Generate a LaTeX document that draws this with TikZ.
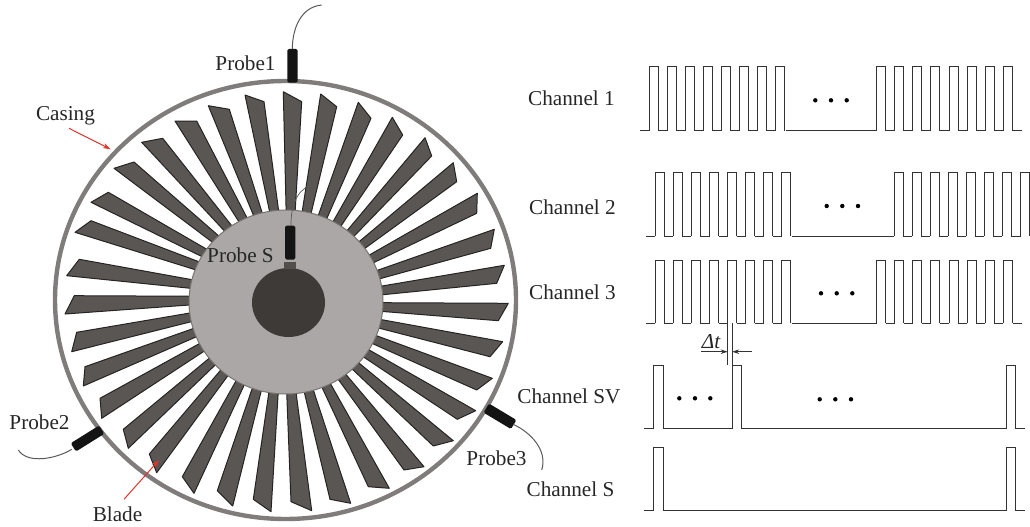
\documentclass[tikz,border=0pt]{standalone}
\usepackage{fontspec}
\setmainfont{Liberation Serif}
\usetikzlibrary{arrows.meta}
\definecolor{bladefill}{HTML}{5A5654}
\definecolor{bladeedge}{HTML}{262322}
\definecolor{casingcol}{HTML}{807C7C}
\definecolor{hubfill}{HTML}{ABA7A6}
\definecolor{hubedge}{HTML}{77736F}
\definecolor{shaftfill}{HTML}{3E3A38}
\definecolor{probecol}{HTML}{141414}
\definecolor{redarrow}{HTML}{E0352B}
\definecolor{sig}{HTML}{333333}
\tikzset{
  lbl/.style={inner sep=0pt,font=\fontsize{21.2}{24}\selectfont,text=black!85},
  wave/.style={draw=sig,line width=1pt,line join=miter},
  wirecol/.style={draw=black!65,line width=1pt},
  redline/.style={draw=redarrow,line width=1pt,-{Stealth[length=8pt,width=5pt]}},
  bladepoly/.style={fill=bladefill,draw=bladeedge,line width=1pt,line join=round},
  probebody/.style={draw=none,fill=probecol,rounded corners=1.5pt},
}
\begin{document}
\begin{tikzpicture}[x=1pt,y=-1pt]
\useasboundingbox (0,0) rectangle (1030,527);
\clip (0,0) rectangle (1030,527);
% blades: outer tip points
\foreach \ax/\ay/\bx/\by in {
283.3/91.7/301.7/101.7, 320.7/94/336.7/106.7, 358.3/102.3/371/118.3, 392.3/117.3/402.7/135,
425/137.7/431.7/156, 453.3/162.7/456.7/181.7, 477.3/193.3/476.7/213.3, 494.3/229.3/490.7/248.3,
504.3/265.3/496.7/283.3, 508.3/303.3/498.3/320.7, 502.7/341.7/490/356.7, 492.3/378.3/476.7/390,
475.7/410.7/457.3/419.3, 453.3/440.7/433.3/446, 424/466.7/404/470, 389.3/488.3/368.3/486.7,
350.7/503.3/330/499.3, 311.7/510.7/291/501.7, 271/511.7/253.3/499.3, 232.7/506/217.3/490.7,
194/493.3/182.3/476.7, 156.7/472.7/149.3/454, 128.3/448.3/123.3/429.3, 101.7/418.3/100/398.3,
83.3/386/85/366.7, 71.7/351.7/76.7/332.3, 65/314/74.3/295.7, 66.7/275.7/79.3/259.3,
75/232.3/91/220.7, 91/202.3/108.3/192.3, 114/168.3/134/162, 141.7/142.3/162.7/138.3,
175/121/196.7/121, 208.3/105.7/229.3/109.3, 245/95/264/101.7}{
  \pgfmathsetmacro{\ang}{atan2((\ax-286)/1.053,301-\ay)}
  \pgfmathsetmacro{\rax}{286+1.053*88*sin(\ang+0.8)}
  \pgfmathsetmacro{\ray}{300.5-88*cos(\ang+0.8)}
  \pgfmathsetmacro{\rbx}{286+1.053*88*sin(\ang+6.3)}
  \pgfmathsetmacro{\rby}{300.5-88*cos(\ang+6.3)}
  \draw[bladepoly] (\ax,\ay) -- (\bx,\by) -- (\rbx,\rby) -- (\rax,\ray) -- cycle;
}
% casing, hub, shaft
\draw[casingcol,line width=4.4pt] (285.5,300) ellipse [x radius=230.5,y radius=219];
\draw[hubedge,fill=hubfill,line width=1pt] (286,302) ellipse [x radius=97,y radius=92];
\fill[shaftfill] (288.5,302.5) ellipse [x radius=36.5,y radius=34.5];
% probes
\fill[shaftfill!90!white] (284,261.7) rectangle (296,269);
\draw[probebody] (285,225.7) rectangle (295.3,259.5);
\coordinate (ps) at (291,225.7);
\coordinate (psend) at (306.7,186.7);
\draw[wirecol,line width=0.7pt] (ps) .. controls (291,215) and (292,205) .. (298.3,195) .. controls (300,192) and (303,190) .. (psend);
\draw[probebody] (287.3,49) rectangle (297.7,82.7);
\coordinate (p1t) at (292.3,49);
\coordinate (p1e) at (321.7,5);
\draw[wirecol] (p1t) .. controls (292.5,28) and (301,7) .. (p1e);
\draw[probebody,rotate around={32:(87.5,438.5)}] (70.8,433.6) rectangle (104.2,443.4);
\coordinate (p2t) at (71.7,449.3);
\coordinate (p2e) at (18.3,450);
\draw[wirecol] (p2t) .. controls (58,458) and (28,465) .. (p2e);
\draw[probebody,rotate around={-31:(500,416.3)}] (484,411) rectangle (516,421.6);
\coordinate (p3t) at (513.5,424.5);
\coordinate (p3e) at (541.7,470);
\draw[wirecol] (p3t) .. controls (530,432) and (548,450) .. (p3e);
% left labels
\node[lbl] (lp1) at (245.5,63) {Probe1};
\node[lbl] (lcas) at (65.5,115.5) {Casing};
\node[lbl] (lps) at (240.5,255) {Probe S};
\node[lbl] (lp2) at (39.5,422) {Probe2};
\node[lbl] (lp3) at (496.5,458) {Probe3};
\node[lbl] (lbl) at (117.5,514) {Blade};
\coordinate (casS) at (69,128.3);
\coordinate (casT) at (110.7,149.3);
\coordinate (bladeS) at (124,499.3);
\coordinate (bladeT) at (159,460);
\draw[redline] (casS) -- (casT);
\draw[redline] (bladeS) -- (bladeT);
% channel labels
\node[lbl] (c1) at (571.5,98) {Channel 1};
\node[lbl] (c2) at (572.5,207) {Channel 2};
\node[lbl] (c3) at (572.5,292) {Channel 3};
\node[lbl] (csv) at (569,396) {Channel SV};
\node[lbl] (cs) at (570.5,489) {Channel S};
% waveforms
\newcommand{\pulses}[4]{% first rise, count, high, low
  \foreach \k in {1,...,#2}{
    \pgfmathsetmacro{\xa}{#1+18.08*(\k-1)}
    \pgfmathsetmacro{\xb}{\xa+9}
    \pgfmathsetmacro{\xc}{\xa+18.08}
    \draw[wave] (\xa,#4) -- (\xa,#3) -- (\xb,#3) -- (\xb,#4);
    \ifnum\k<#2 \draw[wave] (\xb,#4) -- (\xc,#4);\fi
  }}
% Channel 1
\pulses{649.3}{8}{67}{130.7}
\pulses{876.7}{8}{67}{130.7}
\draw[wave] (640,130.7) -- (649.3,130.7);
\draw[wave] (785.9,130.7) -- (876.7,130.7);
\draw[wave] (1013.3,130.7) -- (1022.3,130.7);
% Channel 2
\pulses{655.3}{8}{172.7}{236}
\pulses{894}{8}{172.7}{236}
\draw[wave] (645.7,236) -- (655.3,236);
\draw[wave] (791.9,236) -- (894,236);
% Channel 3
\pulses{655.3}{8}{260}{323.3}
\pulses{876.7}{8}{260}{323.3}
\draw[wave] (645.7,323.3) -- (655.3,323.3);
\draw[wave] (791.9,323.3) -- (876.7,323.3);
\draw[wave] (1013.3,323.3) -- (1022.3,323.3);
% Channel SV
\draw[wave] (644,428.7) -- (653.7,428.7) -- (653.7,365) -- (663.3,365) -- (663.3,428.7) -- (732.3,428.7) -- (732.3,365) -- (741.7,365) -- (741.7,428.7) -- (1006.3,428.7) -- (1006.3,365) -- (1015.7,365) -- (1015.7,428.7) -- (1025,428.7);
% Channel S
\draw[wave] (644,510.7) -- (653.7,510.7) -- (653.7,447) -- (663,447) -- (663,510.7) -- (1006.3,510.7) -- (1006.3,447) -- (1015.7,447) -- (1015.7,510.7) -- (1025,510.7);
% dots
\foreach \x/\y in {815.3/100.3,831/100.3,846.7/100.3,826.7/206,842.3/206,858/206,821/293.3,836.7/293.3,852.3/293.3,679.3/398.3,695/398.3,710.3/398.3,819.7/399.3,835.3/399.3,851/399.3}
  \fill (\x,\y) circle (2.2);
% delta t
\coordinate (dl) at (727.7,351.7);
\coordinate (dr) at (732.2,351.7);
\draw[wave] (727.7,323) -- (727.7,365);
\draw[wave] (732.2,323) -- (732.2,365);
\draw[draw=sig,line width=0.8pt,-{Stealth[length=7pt,width=4.5pt]}] (700.7,351.7) -- (dl);
\draw[draw=sig,line width=0.8pt,-{Stealth[length=7pt,width=4.5pt]}] (752,351.7) -- (dr);
\node[lbl,font=\fontsize{21.2}{24}\selectfont\itshape] (dtl) at (711,342) {Δt};
\end{tikzpicture}
\end{document}
